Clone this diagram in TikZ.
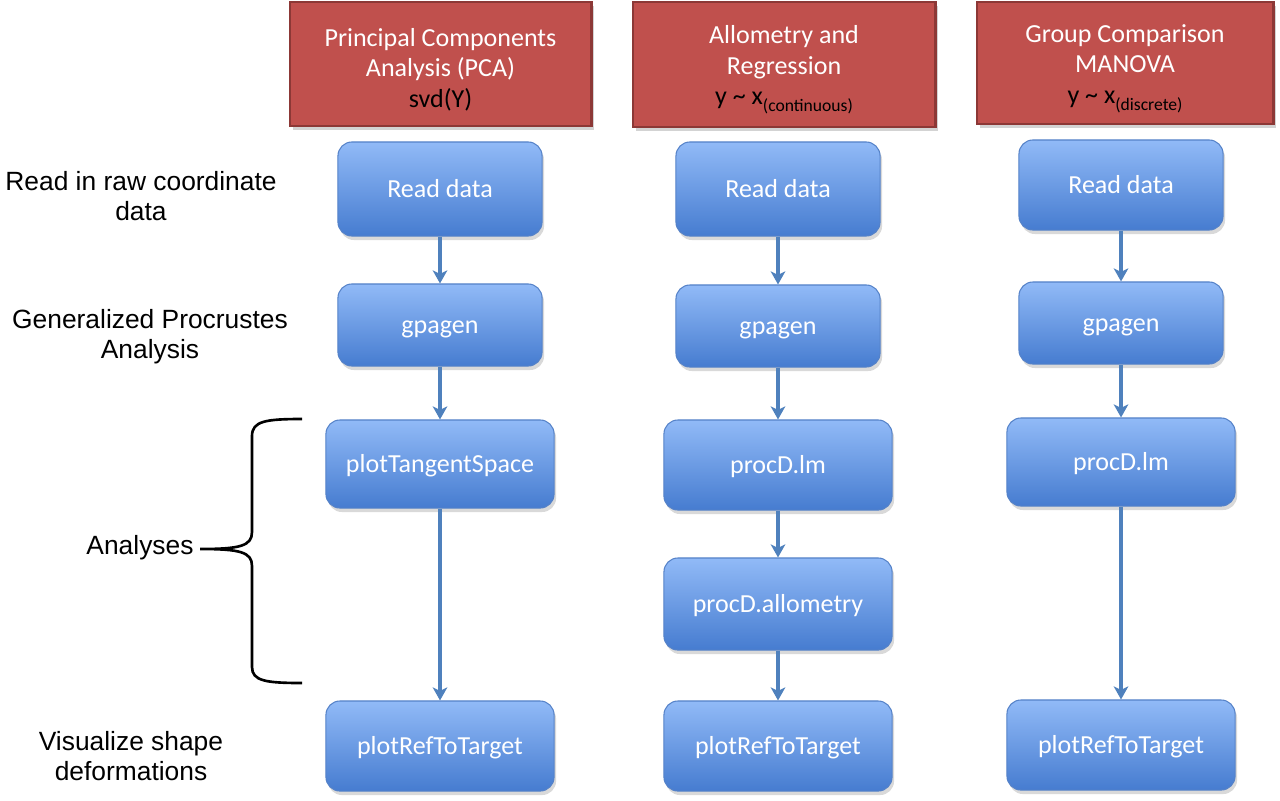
\documentclass[tikz,border=0pt]{standalone}
\usepackage{fontspec}
\setmainfont{Carlito}
\newfontfamily\arialf{Liberation Sans}
\usetikzlibrary{shadows,arrows.meta}
\definecolor{hdrfill}{RGB}{192,80,77}
\definecolor{hdrdraw}{RGB}{140,56,54}
\definecolor{btop}{RGB}{145,186,247}
\definecolor{bbot}{RGB}{70,124,208}
\definecolor{bdraw}{RGB}{85,130,200}
\definecolor{arrowc}{RGB}{79,129,189}
\newcommand{\subtxt}[1]{\raisebox{-0.55ex}{\fontsize{5}{6}\selectfont #1}}
\tikzset{
  hdr/.style={rectangle, fill=hdrfill, draw=hdrdraw, line width=0.8pt, inner sep=0pt,
    drop shadow={opacity=0.35, shadow xshift=0.3mm, shadow yshift=-0.4mm}},
  hdrtext/.style={text=white, align=center, font=\fontsize{7.4}{8.7}\selectfont,
    inner sep=0pt, yshift=-0.55mm},
  bbox/.style={rectangle, rounded corners=1.4mm, top color=btop, bottom color=bbot,
    draw=bdraw, line width=0.3pt, text=white, font=\fontsize{7.4}{8.8}\selectfont,
    minimum height=0.88cm, inner sep=0pt, text height=4.8pt, text depth=0pt,
    drop shadow={opacity=0.3, shadow xshift=0.2mm, shadow yshift=-0.4mm}},
  narrow/.style={bbox, minimum width=2.04cm},
  wide/.style={bbox, minimum width=2.28cm},
  lbl/.style={align=center, font=\arialf\fontsize{7.5}{8.5}\selectfont, inner sep=0pt},
  flow/.style={draw=arrowc, line width=0.9pt, -{Stealth[length=1.3mm,width=1.45mm,inset=0.35mm]}},
}
\begin{document}
\begin{tikzpicture}[x=0.01cm, y=-0.01cm]
\useasboundingbox (0,0) rectangle (1280,800);

% headers
\node[hdr, minimum width=3.01cm, minimum height=1.24cm,
  label={[hdrtext]center:{Principal Components\\Analysis (PCA)\\\textcolor{black}{svd(Y)}}}]
  (h1) at (440.5,64) {};
\node[hdr, minimum width=3.02cm, minimum height=1.25cm,
  label={[hdrtext]center:{Allometry and\\Regression\\\textcolor{black}{y \textasciitilde{} x\subtxt{(continuous)}}}}]
  (h2) at (784,64.5) {};
\node[hdr, minimum width=2.96cm, minimum height=1.22cm,
  label={[hdrtext]center:{Group Comparison\\MANOVA\\\textcolor{black}{y \textasciitilde{} x\subtxt{(discrete)}}}}]
  (h3) at (1125,63) {};

% column 1
\node[narrow, minimum height=0.94cm] (a1) at (440,189) {Read data};
\node[narrow, minimum height=0.82cm] (a2) at (440,325) {gpagen};
\node[wide] (a3) at (440,464) {plotTangentSpace};
\node[wide, minimum height=0.9cm] (a4) at (440,746) {plotRefToTarget};

% column 2
\node[narrow, minimum height=0.94cm] (b1) at (778,189) {Read data};
\node[narrow, minimum height=0.82cm] (b2) at (778,326) {gpagen};
\node[wide, minimum height=0.9cm] (b3) at (778,465) {procD.lm};
\node[wide, minimum height=0.92cm] (b4) at (778,604) {procD.allometry};
\node[wide, minimum height=0.9cm] (b5) at (778,746) {plotRefToTarget};

% column 3
\node[narrow, minimum height=0.9cm] (c1) at (1121,185) {Read data};
\node[narrow, minimum height=0.82cm] (c2) at (1121,323) {gpagen};
\node[wide, minimum height=0.88cm] (c3) at (1121,462) {procD.lm};
\node[wide, minimum height=0.9cm] (c4) at (1121,745) {plotRefToTarget};

% arrows
\draw[flow] (a1) -- (a2);
\draw[flow] (a2) -- (a3);
\draw[flow] (a3) -- (a4);
\draw[flow] (b1) -- (b2);
\draw[flow] (b2) -- (b3);
\draw[flow] (b3) -- (b4);
\draw[flow] (b4) -- (b5);
\draw[flow] (c1) -- (c2);
\draw[flow] (c2) -- (c3);
\draw[flow] (c3) -- (c4);

% left labels
\node[lbl] (l1) at (141,196) {Read in raw coordinate\\data};
\node[lbl] (l2) at (150,337) {Generalized Procrustes\\Analysis};
\node[lbl] (l3) at (140,548) {Analyses};
\node[lbl] (l4) at (131,756) {Visualize shape\\deformations};

% brace
\coordinate (tip) at (200,549);
\draw[black, line width=0.75pt]
  (302,419) .. controls (266,419) and (252,421) .. (252,436)
  -- (252,532) .. controls (252,546) and (240,549) .. (tip)
  .. controls (240,549) and (252,552) .. (252,566)
  -- (252,667) .. controls (252,681) and (266,683) .. (302,683);
\end{tikzpicture}
\end{document}
